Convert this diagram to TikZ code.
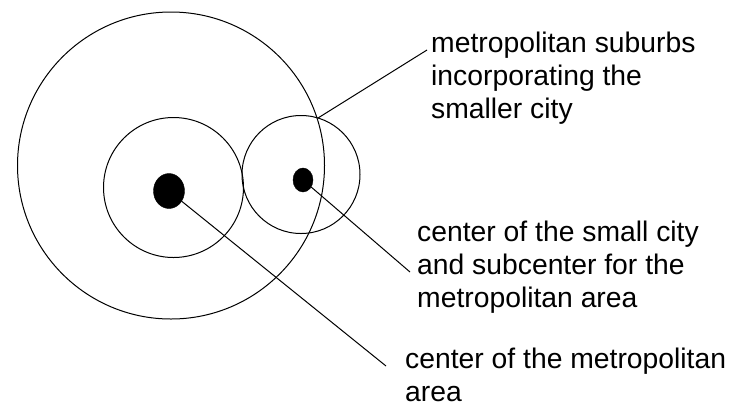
\documentclass[tikz,border=0pt]{standalone}
\usepackage{fontspec}
\setmainfont{Liberation Sans}
\usetikzlibrary{shapes.geometric}

\begin{document}
\begin{tikzpicture}[
    x=1pt, y=-1pt,
    ring/.style={draw, circle, line width=1pt, inner sep=0pt, outer sep=0pt},
    spot/.style={draw, fill=black, ellipse, inner sep=0pt, outer sep=0pt},
    lbl/.style={anchor=base west, align=left, inner sep=0pt, font={\fontsize{28.3}{33}\selectfont}},
    leader/.style={line width=1pt},
]
\useasboundingbox (0,0) rectangle (731,408);

% Círculos
\node[ring, minimum size=307pt] (metro) at (171,165.5) {};
\node[ring, minimum size=140pt] (core) at (173.5,187.5) {};
\node[ring, minimum size=118pt] (town) at (301,174.5) {};

% Centros
\node[spot, minimum width=31pt, minimum height=35pt] (cbd) at (169,191) {};
\node[spot, minimum width=20pt, minimum height=24pt] (subcbd) at (303,180) {};

% Textos (base = linha de baixo)
\node[lbl] (suburbs) at (431,118) {metropolitan suburbs\\incorporating the\\smaller city};
\node[lbl] (subcbdtext) at (417,307) {center of the small city\\and subcenter for the\\metropolitan area};
\node[lbl] (cbdtext) at (405,401) {center of the metropolitan\\area};

% Linhas de chamada
\coordinate (suburbs foot) at (318,118);
\coordinate (suburbs end) at (427,50);
\coordinate (subcbd end) at (410,272);
\coordinate (cbd end) at (386,366);

\draw[leader] (suburbs foot) -- (suburbs end);
\draw[leader] (subcbd) -- (subcbd end);
\draw[leader] (cbd) -- (cbd end);
\end{tikzpicture}
\end{document}
